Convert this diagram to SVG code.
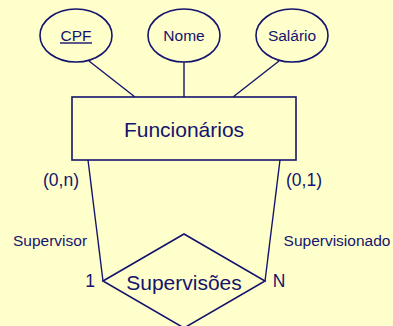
<svg xmlns="http://www.w3.org/2000/svg" width="393" height="326" viewBox="0 0 393 326">
  <style>
    .shape { fill: #FFFFCC; stroke: #14146E; stroke-width: 1.6; }
    .link { stroke: #14146E; stroke-width: 1.4; fill: none; }
    text { font-family: "Liberation Sans", Arial, sans-serif; fill: #14146E; text-anchor: middle; }
    .attr { font-size: 15.5px; }
    .big { font-size: 21px; }
    .card { font-size: 17.5px; }
    .role { font-size: 15.5px; }
  </style>
  <rect x="0" y="0" width="393" height="326" fill="#FFFFCC"/>

  <!-- connectors -->
  <g id="connectors">
    <line class="link" x1="89" y1="61" x2="135" y2="97"/>
    <line class="link" x1="184" y1="62" x2="184" y2="97"/>
    <line class="link" x1="279" y1="61" x2="233" y2="97"/>
    <line class="link" x1="88" y1="160" x2="103" y2="281"/>
    <line class="link" x1="280" y1="160" x2="265" y2="281"/>
  </g>

  <!-- attributes -->
  <g id="attr-cpf">
    <ellipse class="shape" cx="76" cy="35.5" rx="36" ry="26.5"/>
    <text class="attr" x="76" y="41">CPF</text>
    <line class="link" x1="60" y1="43" x2="92" y2="43" stroke-width="1.2"/>
  </g>
  <g id="attr-nome">
    <ellipse class="shape" cx="184" cy="35.5" rx="36" ry="26.5"/>
    <text class="attr" x="184" y="41">Nome</text>
  </g>
  <g id="attr-salario">
    <ellipse class="shape" cx="292" cy="35.5" rx="36" ry="26.5"/>
    <text class="attr" x="292" y="41">Salário</text>
  </g>

  <!-- entity -->
  <g id="funcionarios">
    <rect class="shape" x="72" y="97" width="224" height="63"/>
    <text class="big" x="184" y="137">Funcionários</text>
  </g>

  <!-- relationship -->
  <g id="supervisoes">
    <polygon class="shape" points="103,281 184,234 265,281 184,328"/>
    <text class="big" x="184" y="290">Supervisões</text>
  </g>

  <!-- cardinalities and roles -->
  <g id="labels">
    <text class="card" x="61" y="186">(0,n)</text>
    <text class="card" x="304" y="186">(0,1)</text>
    <text class="role" x="50" y="246">Supervisor</text>
    <text class="role" x="337" y="246">Supervisionado</text>
    <text class="card" x="90" y="287">1</text>
    <text class="card" x="279" y="287">N</text>
  </g>
</svg>
